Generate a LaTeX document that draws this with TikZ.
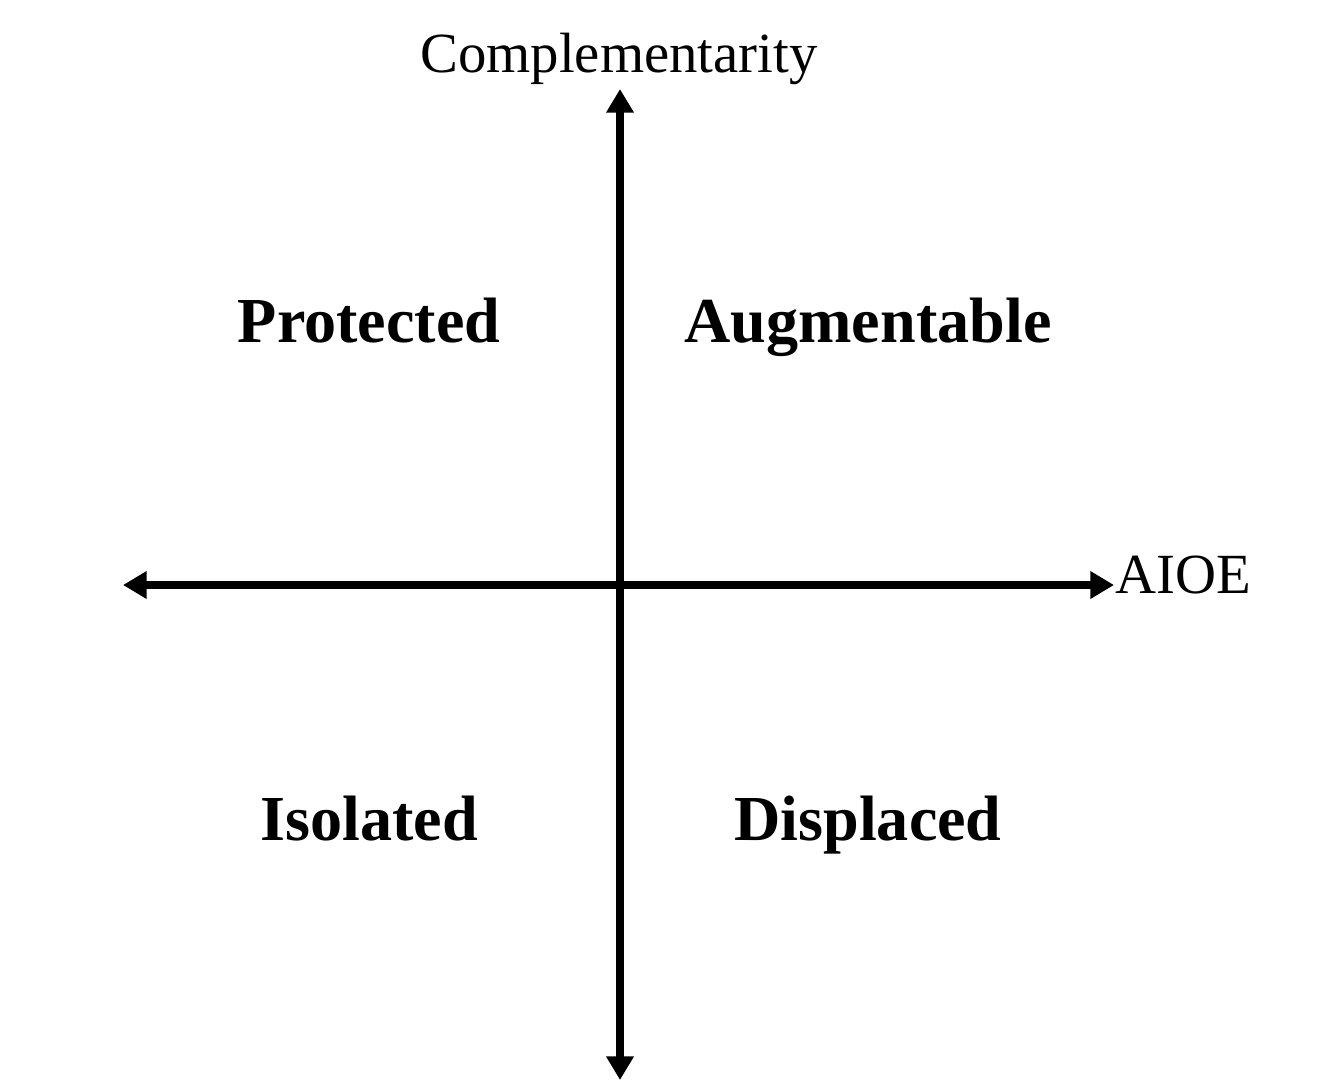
\documentclass[tikz,border=0pt]{standalone}
\usepackage{fontspec}
\setmainfont{Liberation Serif}
\usetikzlibrary{arrows.meta}
\tikzset{
  axis/.style={line width=4.8pt,{Triangle[width=15pt,length=13.5pt]}-{Triangle[width=15pt,length=13.5pt]}},
  quadrant/.style={font=\fontsize{36.5}{44}\selectfont\bfseries,anchor=base,inner sep=0pt},
  axislabel/.style={font=\fontsize{32.3}{38}\selectfont,inner sep=0pt}
}
\begin{document}
\begin{tikzpicture}[x=0.02cm,y=-0.02cm]
      \useasboundingbox (0,0) rectangle (1331,1080);
      \coordinate (top) at (620,89);
      \coordinate (bottom) at (620,1080);
      \coordinate (left) at (123,585);
      \coordinate (right) at (1114,585);
      \draw
        (619,72) node[axislabel,anchor=base] (comp){Complementarity}
        (1115,593) node[axislabel,anchor=base west] (aioe){AIOE}
        (369,342) node[quadrant] (prot){Protected}
        (868,342) node[quadrant] (augm){Augmentable}
        (369,840) node[quadrant] (isol){Isolated}
        (868,840) node[quadrant] (disp){Displaced};
      \begin{scope}[axis]
        \draw (left) to (right);
        \draw (bottom) to (top);
      \end{scope}
    \end{tikzpicture}
\end{document}
